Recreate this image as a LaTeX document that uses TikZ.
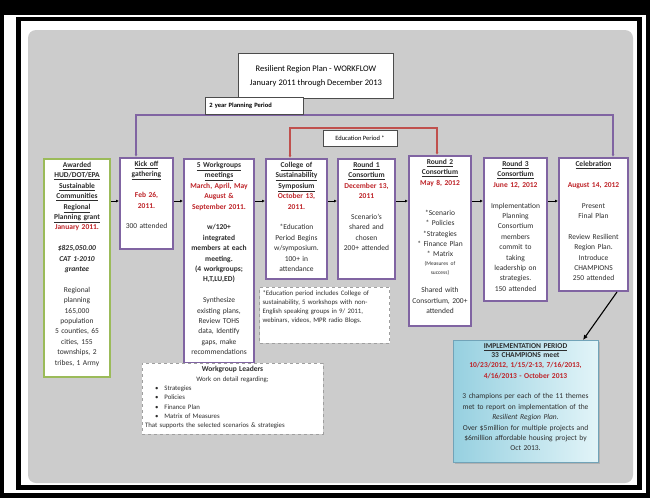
\documentclass[tikz,border=0pt]{standalone}
\usepackage{fontspec}
\setmainfont{Carlito}
\usetikzlibrary{arrows.meta,positioning,shadows}

\definecolor{wfpurple}{RGB}{128,100,162}
\definecolor{wfgreen}{RGB}{155,187,89}
\definecolor{wfred}{RGB}{192,80,77}
\definecolor{wfdate}{RGB}{190,35,40}
\definecolor{wftext}{RGB}{45,45,45}
\definecolor{wfpanel}{RGB}{204,204,204}
\definecolor{wfcyanA}{RGB}{150,208,224}
\definecolor{wfcyanB}{RGB}{226,244,248}

\newcommand{\ttl}[1]{\textbf{\underline{#1}}}
\newcommand{\dte}[1]{\textcolor{wfdate}{\textbf{#1}}}
\def\bl{10.4pt}

\begin{document}
\begin{tikzpicture}[x=1pt,y=-1pt,
    box/.style={draw=wfpurple, line width=2pt, fill=white, anchor=north, align=center,
        inner xsep=2pt, inner ysep=2.5pt, text height=6pt, text=wftext,
        font=\fontsize{7.5}{10.4}\selectfont},
    note/.style={draw=gray!75, dashed, line width=0.6pt, fill=white, anchor=north,
        inner sep=3pt, text height=5.5pt, text=wftext},
    lbl/.style={draw=gray!60!black, line width=0.6pt, fill=white, text=black},
    flow/.style={-{Latex[length=3pt,width=3pt]}, line width=0.6pt},
    tip/.style={{Latex[length=3pt,width=3pt]}-{Latex[length=3pt,width=3pt]}, line width=1.2pt}]
    \useasboundingbox (0,0) rectangle (650,498);

    % frame and panel
    \fill[black] (0,0) rectangle (650,498);
    \fill[white] (4,15) rectangle (646,493);
    \draw[line width=4.5pt] (18.5,19) rectangle (639.5,487.5);
    \fill[wfpanel, rounded corners=8pt] (28,30) rectangle (633,483);

    % boxes of the row
    \node[box, draw=wfgreen, text width=62pt, text depth=207pt] (award) at (77,158)
        {\ttl{Awarded}\\\ttl{HUD/DOT/EPA}\\\ttl{Sustainable}\\\ttl{Communities}\\\ttl{Regional}\\\ttl{Planning grant}\\\dte{January 2011.}\\[\bl]
         \textbf{\textit{\$825,050.00}}\\\textbf{\textit{CAT 1-2010}}\\\textbf{\textit{grantee}}\\[\bl]
         Regional\\planning\\165,000\\population\\5 counties, 65\\cities, 155\\townships, 2\\tribes, 1 Army};
    \node[box, text width=49pt, text depth=80pt] (kick) at (146.5,157)
        {\ttl{Kick off}\\\ttl{gathering}\\[\bl]\dte{Feb 26,}\\\dte{2011.}\\[\bl]300 attended};
    \node[box, text width=66pt, text depth=193pt] (work) at (219,158)
        {\ttl{5 Workgroups}\\\ttl{meetings}\\\dte{March, April, May}\\\dte{August \&}\\\dte{September 2011.}\\[\bl]
         \textbf{w/120+}\\\textbf{integrated}\\\textbf{members at each}\\\textbf{meeting.}\\\textbf{(4 workgroups;}\\\textbf{H,T,LU,ED)}\\[\bl]
         Synthesize\\existing plans,\\Review TOHS\\data, Identify\\gaps, make\\recommendations};
    \node[box, text width=57pt, text depth=109pt] (coll) at (296.5,158)
        {\ttl{College of}\\\ttl{Sustainability}\\\ttl{Symposium}\\\dte{October 13,}\\\dte{2011.}\\[\bl]
         {*}Education\\Period Begins\\w/symposium.\\100+ in\\attendance};
    \node[box, text width=53pt, text depth=109pt] (rnd1) at (366.5,158)
        {\ttl{Round 1}\\\ttl{Consortium}\\\dte{December 13,}\\\dte{2011}\\[\bl]
         Scenario's\\shared and\\chosen\\200+ attended};
    \node[box, text width=58pt, text depth=159pt] (rnd2) at (440,155)
        {\ttl{Round 2}\\\ttl{Consortium}\\\dte{May 8, 2012}\\[19.6pt]
         {*}Scenario\\{*} Policies\\{*}Strategies\\{*} Finance Plan\\{*} Matrix\\[-1.4pt]
         {\fontsize{5.5}{7}\selectfont (Measures of}\\[-1.4pt]{\fontsize{5.5}{7}\selectfont success)}\\[7.6pt]
         Shared with\\Consortium, 200+\\attended};
    \node[box, text width=59pt, text depth=132pt] (rnd3) at (515.5,157)
        {\ttl{Round 3}\\\ttl{Consortium}\\\dte{June 12, 2012}\\[\bl]
         Implementation\\Planning\\Consortium\\members\\commit to\\taking\\leadership on\\strategies.\\150 attended};
    \node[box, text width=65pt, text depth=122pt] (celeb) at (593.5,157)
        {\ttl{Celebration}\\[\bl]\dte{August 14, 2012}\\[\bl]Present\\Final Plan\\[\bl]
         Review Resilient\\Region Plan.\\Introduce\\CHAMPIONS\\250 attended};

    % notes
    \node[note, text width=124pt, text depth=44pt, align=left, font=\fontsize{6.8}{9}\selectfont] (ednote) at (324.5,287)
        {{*}Education period includes College of\\sustainability, 5 workshops with non-\\English speaking groups in 9/ 2011,\\webinars, videos, MPR radio Blogs.};
    \node[note, text width=175pt, text depth=59.5pt, align=left, font=\fontsize{6.8}{9.3}\selectfont] (lead) at (232.5,363)
        {\makebox[\linewidth]{\fontsize{7.5}{9.3}\selectfont\textbf{Workgroup Leaders}}\\
         \makebox[\linewidth]{Work on detail regarding;}\\
         \hspace*{10pt}\textbullet\hspace{6pt}Strategies\\
         \hspace*{10pt}\textbullet\hspace{6pt}Policies\\
         \hspace*{10pt}\textbullet\hspace{6pt}Finance Plan\\
         \hspace*{10pt}\textbullet\hspace{6pt}Matrix of Measures\\
         That supports the selected scenarios \& strategies};
    \node[draw=gray!60!cyan, line width=0.5pt, left color=wfcyanA, right color=wfcyanB,
        drop shadow={opacity=0.35, shadow xshift=1.5pt, shadow yshift=-1.5pt},
        anchor=north, align=center, inner xsep=3pt, inner ysep=2pt, text height=6pt,
        text width=139pt, text depth=112pt, text=wftext, font=\fontsize{7.5}{10.4}\selectfont] (impl) at (525.5,340)
        {\ttl{IMPLEMENTATION PERIOD}\\[-1.4pt]\textbf{33 CHAMPIONS meet}\\
         \dte{10/23/2012, 1/15/2-13, 7/16/2013,}\\\dte{4/16/2013 - October 2013}\\[\bl]
         3 champions per each of the 11 themes\\met to report on implementation of the\\
         \textit{Resilient Region Plan.}\\Over \$5million for multiple projects and\\
         \$6million affordable housing project by\\Oct 2013.};

    % periods
    \coordinate (pl1) at (136,115);
    \coordinate (pl2) at (613,115);
    \draw[tip, wfpurple] (pl1 |- kick.north) -- (pl1) -- (pl2) -- (pl2 |- celeb.north);
    \coordinate (ed1) at (290,128);
    \coordinate (ed2) at (437,128);
    \draw[tip, wfred] (ed1 |- coll.north) -- (ed1) -- (ed2) -- (ed2 |- rnd2.north);

    \node[lbl, font=\fontsize{8.5}{14}\selectfont, align=center, minimum width=155pt, minimum height=45pt] (title) at (316,76)
        {Resilient Region Plan - WORKFLOW\\January 2011 through December 2013};
    \node[lbl, font=\fontsize{6.5}{8}\selectfont\bfseries, anchor=south west, minimum height=17pt,
        text width=90pt, inner xsep=4pt] (plan) at (205,115) {2 year Planning Period};
    \node[lbl, font=\fontsize{6.5}{8}\selectfont, minimum width=74pt, minimum height=16pt] (edper) at (360,138) {Education Period *};

    % flow
    \coordinate (fl) at (0,201);
    \foreach \a/\b in {award/kick,kick/work,work/coll,coll/rnd1,rnd1/rnd2,rnd2/rnd3,rnd3/celeb}
        \draw[flow] (\a.east |- fl) -- (\b.west |- fl);
    \draw[-{Latex[length=5pt,width=4.5pt]}, line width=1.1pt] ([xshift=23.5pt]celeb.south) -- ([xshift=57.5pt]impl.north);
\end{tikzpicture}
\end{document}
